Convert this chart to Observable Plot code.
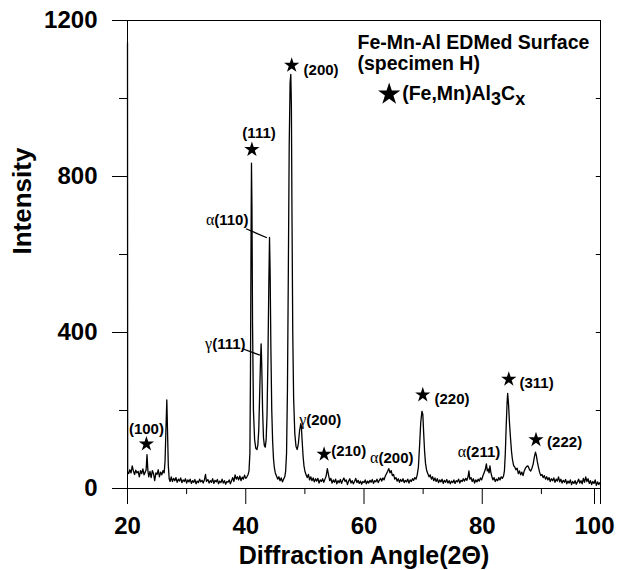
<!DOCTYPE html>
<html>
<head>
<meta charset="utf-8">
<script src="https://cdn.jsdelivr.net/npm/d3@7"></script>
<script src="https://cdn.jsdelivr.net/npm/@observablehq/plot@0.6"></script>
<style>
  html, body { margin: 0; padding: 0; background: #fff; }
  svg text { font-family: "Liberation Sans", Arial, Helvetica, sans-serif; font-weight: bold; }
</style>
</head>
<body>
<div id="chart"></div>
<script>
// XRD scan: [2θ (deg), intensity]
const xrd = [
[20.00,1143],[20.03,42],[20.2,38],[20.4,48],[20.6,40],[20.8,58],[21.0,45],[21.2,36],[21.4,47],[21.6,40],[21.8,44],
[22.0,30],[22.2,46],[22.4,38],[22.6,50],[22.8,35],[23.0,42],[23.15,48],[23.3,87],[23.45,45],[23.6,30],[23.8,44],
[24.0,28],[24.2,46],[24.4,38],[24.6,20],[24.8,40],[25.0,36],[25.2,48],[25.4,30],[25.6,42],[25.8,35],[26.0,46],
[26.2,40],[26.35,70],[26.5,150],[26.65,227],[26.78,140],[26.9,60],[27.05,25],[27.2,18],[27.4,30],[27.6,18],
[27.8,26],[28.0,20],[28.2,28],[28.4,16],[28.6,24],[28.8,19],[29.0,27],[29.2,15],[29.4,22],[29.6,18],[29.8,25],
[30.0,14],[30.2,22],[30.4,17],[30.6,24],[30.8,13],[31.0,20],[31.2,16],[31.4,23],[31.6,12],[31.8,19],[32.0,15],
[32.2,24],[32.4,17],[32.6,21],[32.8,14],[33.0,22],[33.2,36],[33.35,18],[33.6,23],[33.8,14],[34.0,20],[34.2,16],
[34.4,25],[34.6,13],[34.8,21],[35.0,17],[35.2,23],[35.4,12],[35.6,19],[35.8,15],[36.0,24],[36.2,14],[36.4,20],
[36.6,11],[36.8,18],[37.0,16],[37.2,22],[37.4,12],[37.6,20],[37.8,28],[38.0,18],[38.2,35],[38.4,24],[38.6,30],
[38.8,22],[39.0,32],[39.2,20],[39.4,29],[39.6,24],[39.8,34],[40.0,26],[40.2,30],[40.4,36],[40.55,45],[40.7,90],
[40.8,300],[40.9,650],[40.97,834],[41.05,720],[41.15,420],[41.3,200],[41.5,125],[41.7,103],[41.9,100],[42.05,112],
[42.2,150],[42.35,240],[42.5,330],[42.6,371],[42.7,320],[42.85,200],[43.0,130],[43.15,110],[43.3,106],[43.45,125],
[43.6,190],[43.75,330],[43.9,520],[44.02,644],[44.12,560],[44.25,360],[44.4,200],[44.55,120],[44.7,75],[44.85,52],
[45.0,40],[45.2,32],[45.4,24],[45.6,30],[45.8,20],[46.0,27],[46.2,17],[46.4,24],[46.6,30],[46.75,45],[46.9,90],
[47.05,250],[47.2,550],[47.35,880],[47.5,1040],[47.62,1062],[47.72,980],[47.82,700],[47.95,400],[48.1,230],
[48.3,140],[48.5,108],[48.7,100],[48.9,115],[49.1,148],[49.3,166],[49.4,160],[49.55,120],[49.7,82],[49.85,58],
[50.0,45],[50.2,35],[50.4,28],[50.6,36],[50.8,22],[51.0,30],[51.2,20],[51.4,27],[51.6,17],[51.8,25],[52.0,19],
[52.2,26],[52.4,14],[52.6,22],[52.8,18],[53.0,25],[53.2,16],[53.4,24],[53.6,32],[53.8,51],[54.0,35],[54.2,20],
[54.4,26],[54.6,14],[54.8,22],[55.0,16],[55.2,24],[55.4,12],[55.6,20],[55.8,15],[56.0,23],[56.2,13],[56.4,21],
[56.6,27],[56.8,18],[57.0,22],[57.2,10],[57.4,19],[57.6,25],[57.8,14],[58.0,20],[58.2,12],[58.4,18],[58.6,26],
[58.8,15],[59.0,21],[59.2,13],[59.4,19],[59.6,11],[59.8,18],[60.0,15],[60.2,22],[60.4,12],[60.6,19],[60.8,14],
[61.0,21],[61.2,16],[61.4,23],[61.6,13],[61.8,20],[62.0,17],[62.2,24],[62.4,15],[62.6,21],[62.8,26],[63.0,19],
[63.2,27],[63.4,22],[63.6,32],[63.8,38],[64.0,44],[64.2,51],[64.4,40],[64.6,46],[64.8,33],[65.0,36],[65.2,24],
[65.4,28],[65.6,19],[65.8,25],[66.0,16],[66.2,23],[66.4,18],[66.6,25],[66.8,15],[67.0,21],[67.2,17],[67.4,24],
[67.6,14],[67.8,22],[68.0,18],[68.2,25],[68.4,21],[68.6,28],[68.8,24],[69.0,35],[69.2,55],[69.4,110],[69.6,170],
[69.8,198],[69.95,190],[70.1,140],[70.25,95],[70.4,65],[70.6,46],[70.8,38],[71.0,30],[71.2,35],[71.4,24],[71.6,30],
[71.8,20],[72.0,27],[72.2,18],[72.4,25],[72.6,15],[72.8,22],[73.0,17],[73.2,24],[73.4,13],[73.6,21],[73.8,16],
[74.0,23],[74.2,14],[74.4,20],[74.6,12],[74.8,19],[75.0,15],[75.2,22],[75.4,13],[75.6,20],[75.8,17],[76.0,24],
[76.2,14],[76.4,21],[76.6,18],[76.8,25],[77.0,19],[77.2,26],[77.4,21],[77.6,30],[77.75,45],[77.9,24],[78.1,28],
[78.3,18],[78.5,25],[78.7,14],[78.9,22],[79.1,17],[79.3,24],[79.5,19],[79.7,27],[79.9,22],[80.1,32],[80.3,40],
[80.5,48],[80.7,63],[80.85,45],[81.0,50],[81.15,40],[81.3,58],[81.45,42],[81.6,32],[81.8,22],[82.0,28],[82.2,18],
[82.4,24],[82.6,20],[82.8,28],[83.0,22],[83.2,30],[83.4,26],[83.6,32],[83.75,45],[83.9,90],[84.05,160],[84.2,220],
[84.3,244],[84.45,215],[84.6,170],[84.77,131],[84.95,95],[85.1,75],[85.3,59],[85.5,55],[85.7,48],[85.9,52],
[86.1,38],[86.3,45],[86.5,35],[86.7,42],[86.9,33],[87.1,45],[87.3,52],[87.5,56],[87.7,58],[87.85,54],[88.0,48],
[88.2,45],[88.4,52],[88.6,62],[88.8,80],[89.0,93],[89.15,85],[89.3,70],[89.5,55],[89.7,42],[89.9,33],[90.1,36],
[90.3,28],[90.5,33],[90.7,24],[90.9,30],[91.1,22],[91.3,28],[91.5,18],[91.7,25],[91.9,20],[92.1,27],[92.3,16],
[92.5,24],[92.7,19],[92.9,30],[93.1,17],[93.3,24],[93.5,14],[93.7,21],[93.9,16],[94.1,23],[94.3,12],[94.5,19],
[94.7,14],[94.9,22],[95.1,10],[95.3,18],[95.5,13],[95.7,20],[95.9,11],[96.1,17],[96.3,24],[96.5,14],[96.7,20],
[96.9,12],[97.1,26],[97.3,16],[97.5,30],[97.7,18],[97.9,25],[98.1,13],[98.3,20],[98.5,10],[98.7,18],[98.9,13],
[99.1,22],[99.3,8],[99.5,17],[99.7,10],[99.9,15],[100.0,12]
];

const majorAngleTicks = [20, 40, 60, 80];
const lastAngleTick = [100];
const minorAngleTicks = [30, 50, 70, 90];
const majorIntensityTicks = [0, 400, 800, 1200];
const minorIntensityTicks = [200, 600, 1000];
const rightIntensityTicks = [200, 400, 600, 800, 1000];

// (Fe,Mn)Al3Cx reflections: star marker positions
const starAngles = [23.2, 41.04, 47.77, 53.25, 69.94, 84.49, 89.09];
const starHeights = [114, 869, 1085, 88, 240, 280, 125];

// hkl labels
const hklText = ["(100)", "(111)", "(200)", "(210)", "(220)", "(311)", "(222)"];
const hklAngle = [23.2, 42.25, 49.78, 54.45, 71.92, 86.3, 90.97];
const hklHeight = [151, 911, 1072, 95, 228, 270, 118];
const hklAnchor = ["middle", "middle", "start", "start", "start", "start", "start"];

// phase (alpha / gamma) labels
const phaseText = ["α(110)", "γ(111)", "γ(200)", "α(200)", "α(211)"];
const phaseAngle = [40.46, 39.96, 49.04, 64.7, 79.45];
const phaseHeight = [687, 370, 176, 79, 92];
const phaseAnchor = ["end", "end", "start", "middle", "middle"];

// leader lines
const leaderFrom = [[40.04, 666], [39.37, 359]];
const leaderTo = [[43.58, 643], [42.38, 342]];

const legendLines = ["Fe-Mn-Al EDMed Surface", "(specimen H)"];
const legendHeights = [1144, 1088];

const stars = starAngles.map((x, i) => ({x, y: starHeights[i]}));
const hkl = hklText.map((t, i) => ({t, x: hklAngle[i], y: hklHeight[i], a: hklAnchor[i]}));
const phase = phaseText.map((t, i) => ({t, x: phaseAngle[i], y: phaseHeight[i], a: phaseAnchor[i]}));
const labels = [...hkl, ...phase];
const leaders = leaderFrom.map((p, i) => ({x1: p[0], y1: p[1], x2: leaderTo[i][0], y2: leaderTo[i][1]}));
const legend = legendLines.map((t, i) => ({t, x: 58.9, y: legendHeights[i]}));

const byAnchor = a => labels.filter(d => d.a === a);
const fmt = d => String(d);

const chart = Plot.plot({
  width: 618,
  height: 570,
  marginLeft: 127,
  marginRight: 18,
  marginTop: 20,
  marginBottom: 82,
  style: {background: "#fff", color: "#000", fontFamily: "'Liberation Sans', Arial, sans-serif"},
  x: {domain: [20, 100]},
  y: {domain: [0, 1200]},
  marks: [
    Plot.frame({stroke: "#000", strokeWidth: 1}),
    Plot.axisX({ticks: majorAngleTicks, tickSize: 16, tickPadding: 12, fontSize: 24, tickFormat: fmt, label: null}),
    Plot.axisX({ticks: lastAngleTick, tickSize: 16, tickPadding: 12, fontSize: 24, tickFormat: fmt, dx: -6, label: null}),
    Plot.axisX({ticks: lastAngleTick, tickSize: 16, tickFormat: () => "", label: null}),
    Plot.axisX({ticks: minorAngleTicks, tickSize: 6, tickFormat: () => "", label: null}),
    Plot.axisY({ticks: majorIntensityTicks, tickSize: 15, tickPadding: 15, fontSize: 24, tickFormat: fmt, label: null}),
    Plot.axisY({ticks: minorIntensityTicks, tickSize: 8, tickFormat: () => "", label: null}),
    Plot.link(rightIntensityTicks, {x1: 99.2, x2: 100, y1: d => d, y2: d => d, stroke: "#000", strokeWidth: 1}),
    Plot.line(xrd, {x: d => d[0], y: d => d[1], stroke: "#000", strokeWidth: 1.3, strokeLinejoin: "round"}),
    Plot.dot(stars, {x: "x", y: "y", symbol: "star", r: 4.8, fill: "#000", stroke: "none"}),
    Plot.text(byAnchor("middle"), {x: "x", y: "y", text: "t", textAnchor: "middle", fontSize: 15, fontWeight: "bold"}),
    Plot.text(byAnchor("start"), {x: "x", y: "y", text: "t", textAnchor: "start", fontSize: 15, fontWeight: "bold"}),
    Plot.text(byAnchor("end"), {x: "x", y: "y", text: "t", textAnchor: "end", fontSize: 15, fontWeight: "bold"}),
    Plot.link(leaders, {x1: "x1", y1: "y1", x2: "x2", y2: "y2", stroke: "#000", strokeWidth: 1.3}),
    Plot.text(legend, {x: "x", y: "y", text: "t", textAnchor: "start", fontSize: 19.5, fontWeight: "bold"}),
    Plot.dot([{x: 64.26, y: 1011}], {x: "x", y: "y", symbol: "star", r: 7, fill: "#000", stroke: "none"}),
    Plot.text([{x: 66.46, y: 1011, t: "(Fe,Mn)Al3Cx"}], {x: "x", y: "y", text: "t", textAnchor: "start", fontSize: 19.5, fontWeight: "bold"}),
    Plot.text(["Diffraction Angle(2Θ)"], {frameAnchor: "bottom", dy: 67, text: d => d, fontSize: 25, fontWeight: "bold", lineAnchor: "middle"}),
    Plot.text(["Intensity"], {frameAnchor: "left", dx: -105, rotate: -90, text: d => d, fontSize: 26, fontWeight: "bold", lineAnchor: "middle"})
  ]
});

document.getElementById("chart").appendChild(chart);

d3.select(chart).selectAll("text").each(function() {
  const s = this.textContent;
  const t = d3.select(this);
  if (s === "(Fe,Mn)Al3Cx") {
    t.text(null);
    t.append("tspan").text("(Fe,Mn)Al");
    t.append("tspan").attr("dy", "0.25em").attr("font-size", 18).text("3");
    t.append("tspan").attr("dy", "-0.25em").text("C");
    t.append("tspan").attr("dy", "0.25em").attr("font-size", 18).text("x");
  } else if (/^[αγ]\(/.test(s)) {
    t.text(null);
    t.append("tspan").attr("font-family", "'Liberation Serif', 'DejaVu Serif', serif").attr("font-weight", "normal").attr("font-size", 16).text(s[0]);
    t.append("tspan").text(s.slice(1));
  }
});
</script>
</body>
</html>
